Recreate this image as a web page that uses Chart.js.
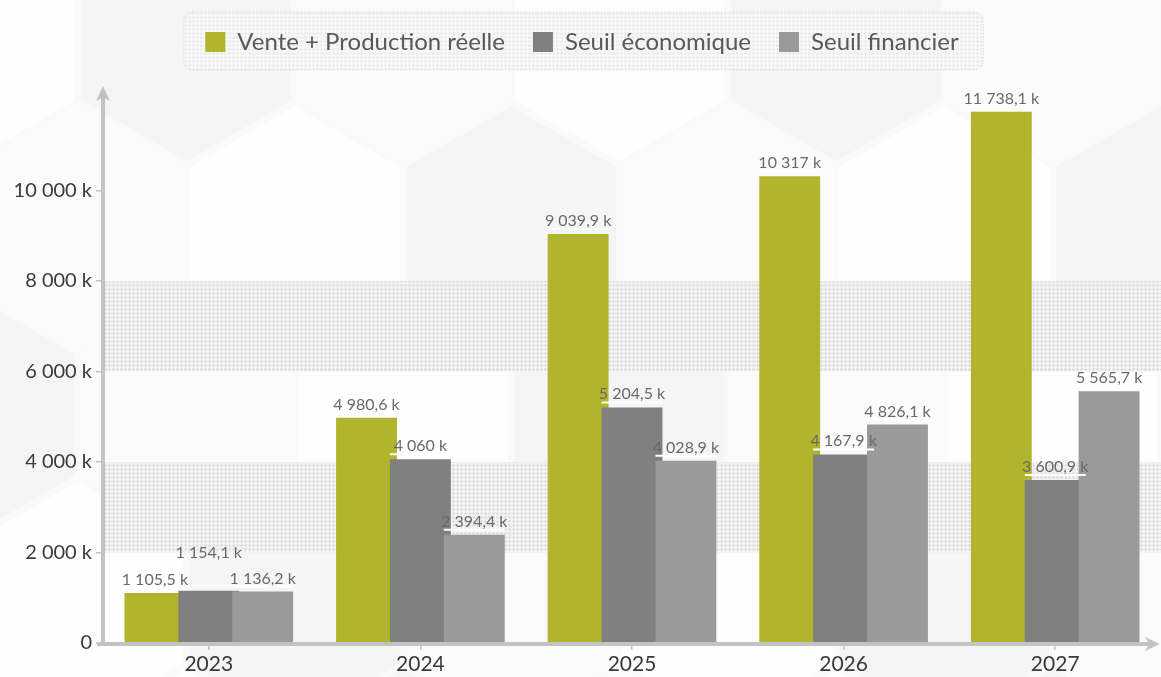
<!DOCTYPE html>
<html><head><meta charset="utf-8">
<script src="https://cdn.jsdelivr.net/npm/chart.js@4.4.1/dist/chart.umd.min.js"></script>
<style>html,body{margin:0;padding:0;background:#fafafa;overflow:hidden}</style>
</head><body>
<canvas id="c" width="1161" height="677"></canvas>
<script>
const categories = ['2023', '2024', '2025', '2026', '2027'];
const venteProduction = [1105.5, 4980.6, 9039.9, 10317, 11738.1];
const seuilEconomique = [1154.1, 4060, 5204.5, 4167.9, 3600.9];
const seuilFinancier = [1136.2, 2394.4, 4028.9, 4826.1, 5565.7];
const seriesLabels = ['Vente + Production réelle', 'Seuil économique', 'Seuil financier'];
const seriesColors = ['#b0b52d', '#808080', '#9a9a9a'];
const yTickValues = [0, 2000, 4000, 6000, 8000, 10000];
const bandRanges = [[2000, 4000], [6000, 8000]];
const yMax = 12000;

const FONT = 'Lato, "Open Sans", sans-serif';

function fmtK(v) {
  if (v === 0) return '0';
  const r = Math.round(v * 10) / 10;
  const parts = r.toString().split('.');
  const i = parts[0].replace(/\B(?=(\d{3})+(?!\d))/g, ' ');
  return i + (parts[1] ? ',' + parts[1] : '') + ' k';
}

function makePattern(ctx, base, dot) {
  const c = document.createElement('canvas');
  c.width = 4; c.height = 4;
  const g = c.getContext('2d');
  g.fillStyle = base; g.fillRect(0, 0, 4, 4);
  g.fillStyle = dot;
  g.fillRect(1, 0, 1, 3);
  g.fillRect(0, 1, 3, 1);
  return ctx.createPattern(c, 'repeat');
}

const legendFit = {
  id: 'legendFit',
  beforeLayout(chart) {
    const lg = chart.legend;
    if (lg && !lg._patched) {
      const orig = lg.fit;
      lg.fit = function () { orig.call(this); this.height += 36; };
      lg._patched = true;
    }
  }
};

const background = {
  id: 'background',
  beforeDraw(chart) {
    const { ctx, width, height, chartArea, scales } = chart;
    ctx.save();
    ctx.fillStyle = '#fafafa';
    ctx.fillRect(0, 0, width, height);
    // faint hexagon decoration
    const R = 125, hw = Math.sqrt(3) * R;
    const fills = ['#fefefe', '#f5f5f5', '#fbfbfb'];
    for (let row = -1; row < 6; row++) {
      for (let col = -1; col < 8; col++) {
        const cx = col * hw + (row % 2 ? hw / 2 : 0) - 30;
        const cy = row * 1.5 * R + 40;
        ctx.beginPath();
        for (let k = 0; k < 6; k++) {
          const a = Math.PI / 180 * (60 * k - 90);
          const px = cx + (R - 4) * Math.cos(a), py = cy + (R - 4) * Math.sin(a);
          k ? ctx.lineTo(px, py) : ctx.moveTo(px, py);
        }
        ctx.closePath();
        ctx.fillStyle = fills[((row + 7) * 2 + col + 7) % 3];
        ctx.fill();
      }
    }
    // stippled bands
    const y = scales.y;
    ctx.fillStyle = makePattern(ctx, '#f2f2f2', '#dedede');
    bandRanges.forEach(([a, b]) => {
      const y1 = y.getPixelForValue(b), y2 = y.getPixelForValue(a);
      ctx.fillRect(chartArea.left + 2, y1, width - chartArea.left, y2 - y1);
    });
    // legend frame
    const boxes = chart.legend && chart.legend.legendHitBoxes;
    if (boxes && boxes.length) {
      const first = boxes[0], last = boxes[boxes.length - 1];
      const x0 = first.left - 22, x1 = last.left + last.width + 25;
      const cy = first.top + first.height / 2;
      const y0 = cy - 30, y1 = cy + 28;
      ctx.beginPath();
      ctx.roundRect(x0, y0, x1 - x0, y1 - y0, 10);
      ctx.fillStyle = makePattern(ctx, '#f7f7f7', '#ebebeb');
      ctx.fill();
      ctx.setLineDash([1, 2]);
      ctx.strokeStyle = '#d4d4d4';
      ctx.lineWidth = 1;
      ctx.stroke();
      ctx.setLineDash([]);
    }
    ctx.restore();
  }
};

const drawOrder = {
  id: 'drawOrder',
  beforeDatasetsDraw(chart) {
    for (let i = 0; i < chart.data.datasets.length; i++) {
      const m = chart.getDatasetMeta(i);
      if (!m.hidden) m.controller.draw();
    }
    return false;
  }
};

const overlay = {
  id: 'overlay',
  afterDraw(chart) {
    const { ctx, chartArea, width } = chart;
    ctx.save();
    // white marks above bars
    ctx.strokeStyle = '#ffffff';
    ctx.lineWidth = 2;
    chart.data.datasets.forEach((ds, i) => {
      chart.getDatasetMeta(i).data.forEach(bar => {
        ctx.beginPath();
        ctx.moveTo(bar.x - bar.width / 2, bar.y - 5);
        ctx.lineTo(bar.x + bar.width / 2, bar.y - 5);
        ctx.stroke();
      });
    });
    // value labels with simple collision avoidance
    ctx.font = '16px ' + FONT;
    ctx.fillStyle = '#6a6a6a';
    ctx.textAlign = 'center';
    ctx.textBaseline = 'alphabetic';
    const placed = [];
    chart.data.datasets.forEach((ds, i) => {
      chart.getDatasetMeta(i).data.forEach((bar, j) => {
        const txt = fmtK(ds.data[j]);
        const tw = ctx.measureText(txt).width;
        let base = bar.y - 8;
        let box = { l: bar.x - tw / 2, r: bar.x + tw / 2, t: base - 13, b: base + 3 };
        let moved = true;
        while (moved) {
          moved = false;
          for (const p of placed) {
            if (box.l < p.r && box.r > p.l && box.t < p.b && box.b > p.t) {
              base = p.t - 14;
              box = { l: box.l, r: box.r, t: base - 13, b: base + 3 };
              moved = true;
            }
          }
        }
        placed.push(box);
        ctx.fillText(txt, bar.x, base);
      });
    });
    // axes with arrows
    const axisColor = '#c3c3c3';
    ctx.strokeStyle = axisColor;
    ctx.fillStyle = axisColor;
    ctx.lineWidth = 4;
    const L = chartArea.left, B = chartArea.bottom, T = chartArea.top;
    ctx.beginPath();
    ctx.moveTo(L, B + 2);
    ctx.lineTo(L, T - 8);
    ctx.stroke();
    ctx.beginPath();
    ctx.moveTo(L, T - 14);
    ctx.lineTo(L - 7, T + 1);
    ctx.lineTo(L, T - 3);
    ctx.lineTo(L + 7, T + 1);
    ctx.closePath();
    ctx.fill();
    const R = width - 1;
    ctx.beginPath();
    ctx.moveTo(L - 6, B + 1);
    ctx.lineTo(R - 8, B + 1);
    ctx.stroke();
    ctx.beginPath();
    ctx.moveTo(R, B + 1);
    ctx.lineTo(R - 15, B - 6);
    ctx.lineTo(R - 11, B + 1);
    ctx.lineTo(R - 15, B + 8);
    ctx.closePath();
    ctx.fill();
    ctx.restore();
  }
};

new Chart(document.getElementById('c'), {
  type: 'bar',
  data: {
    labels: categories,
    datasets: [venteProduction, seuilEconomique, seuilFinancier].map((d, i) => ({
      label: seriesLabels[i],
      data: d,
      backgroundColor: seriesColors[i],
      borderWidth: 0,
      barPercentage: 1.13,
      categoryPercentage: 0.764
    }))
  },
  options: {
    responsive: false,
    animation: false,
    devicePixelRatio: 1,
    layout: { padding: { top: 2, left: 0, right: -3, bottom: 0 } },
    plugins: {
      tooltip: { enabled: false },
      legend: {
        position: 'top',
        labels: {
          boxWidth: 20, boxHeight: 20, padding: 28,
          color: '#595959',
          font: { family: FONT, size: 24 }
        }
      }
    },
    scales: {
      x: {
        grid: { display: true, drawOnChartArea: false, drawTicks: true, tickLength: 7, offset: false, color: '#c3c3c3', lineWidth: 1.5 },
        border: { display: false },
        ticks: { color: '#3a3a3a', font: { family: FONT, size: 21 }, padding: 2 },
        afterFit(s) { s.height = 34; }
      },
      y: {
        min: 0, max: yMax,
        afterBuildTicks(s) { s.ticks = yTickValues.map(v => ({ value: v })); },
        grid: { display: true, drawOnChartArea: false, drawTicks: true, tickLength: 7, color: '#c3c3c3', lineWidth: 1.5 },
        border: { display: false },
        ticks: { color: '#3a3a3a', font: { family: FONT, size: 20 }, padding: 4, callback: v => fmtK(v) },
        afterFit(s) { s.width = 103; }
      }
    }
  },
  plugins: [legendFit, background, drawOrder, overlay]
});
</script>
</body></html>
